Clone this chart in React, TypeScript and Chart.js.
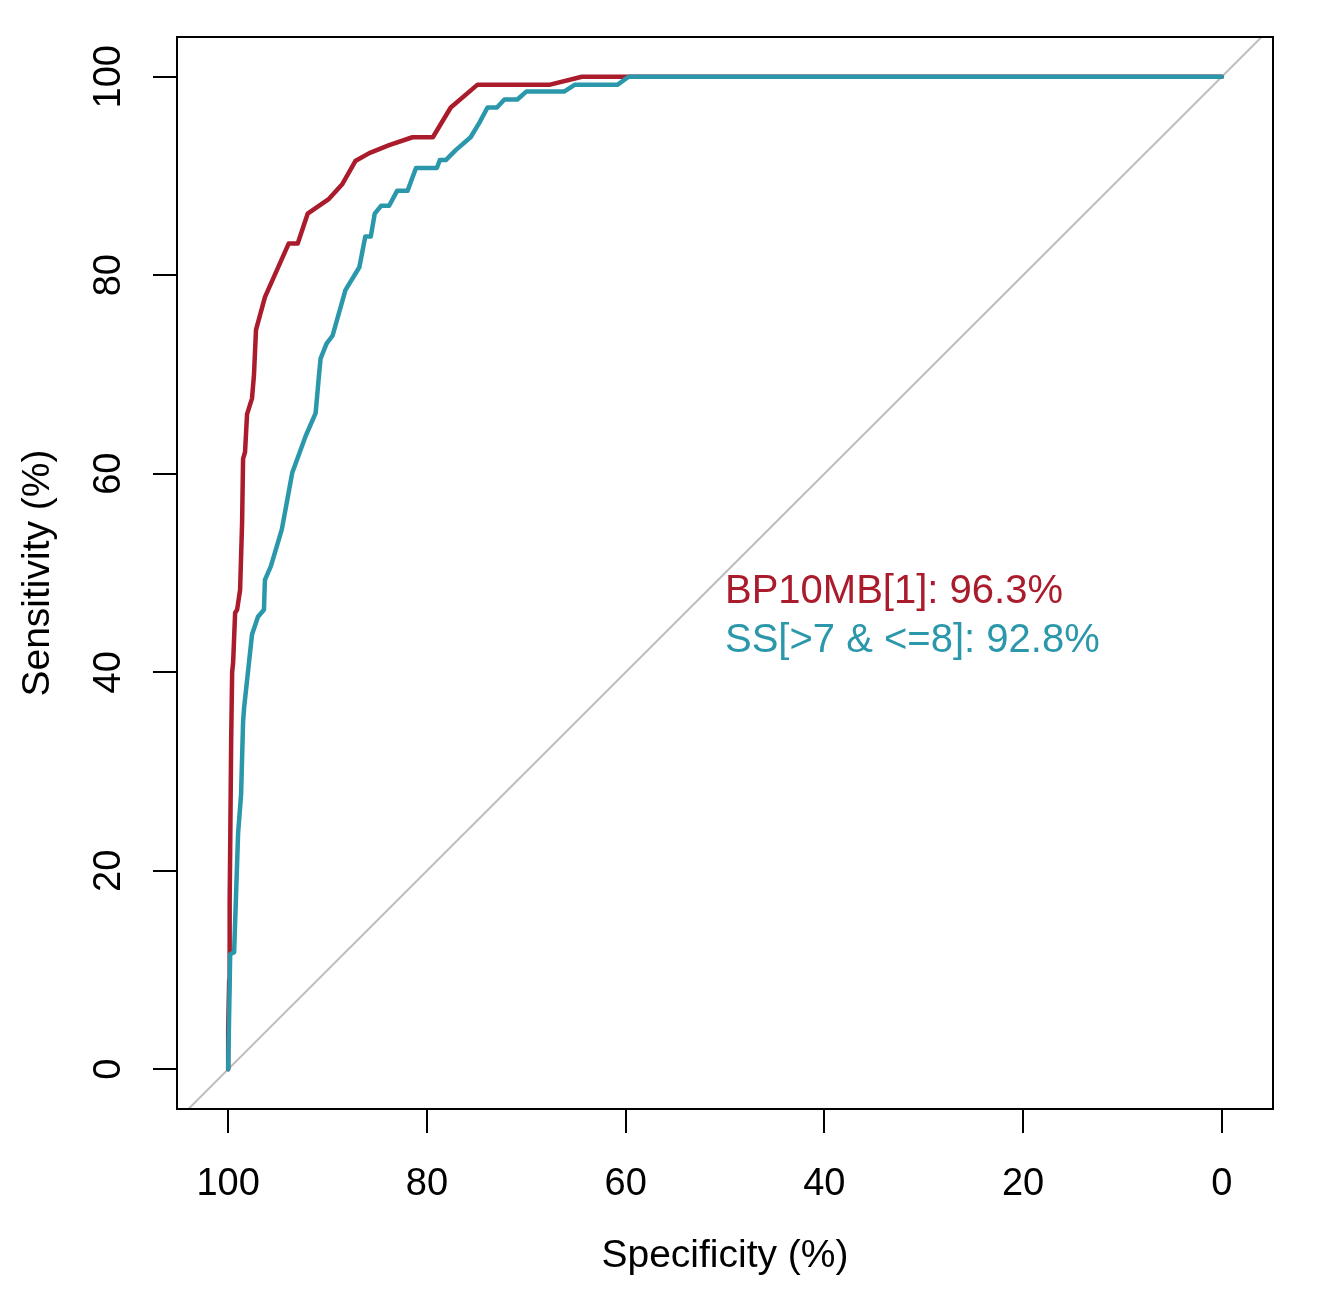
import React, { useEffect, useRef } from 'react';
import { Chart, registerables } from 'chart.js';

Chart.register(...registerables);

// BP10MB[1] ROC curve (specificity %, sensitivity %)
const redSpec = [100, 100, 99.9, 99.85, 99.8, 99.7, 99.6, 99.5, 99.3, 99.1, 98.8, 98.6, 98.5, 98.3, 98.1, 97.6, 97.4, 97.2, 96.3, 93.9, 93.0, 92.0, 89.85, 88.5, 87.2, 85.8, 83.8, 81.45, 79.4, 77.6, 74.9, 67.6, 64.4, 60, 0];
const redSens = [0, 4, 9, 17, 22, 33, 40, 41, 46, 46.3, 48.3, 55, 61.5, 62.2, 66, 67.6, 70, 74.5, 77.8, 83.2, 83.2, 86.2, 87.7, 89.2, 91.5, 92.3, 93.1, 93.9, 93.9, 96.9, 99.2, 99.2, 100, 100, 100];

// SS[>7 & <=8] ROC curve
const tealSpec = [100, 99.8, 99.4, 99.0, 98.7, 98.5, 98.4, 97.6, 97.0, 96.4, 96.3, 95.7, 94.6, 93.55, 92.2, 91.2, 90.9, 90.7, 90.1, 89.5, 88.2, 86.8, 86.2, 85.65, 85.25, 84.6, 83.8, 83.0, 81.95, 81.1, 79.0, 78.7, 78.1, 77.1, 75.6, 74.7, 73.9, 72.95, 72.2, 70.9, 70.0, 66.2, 65.1, 60.8, 59.7, 0];
const tealSens = [0, 11.6, 11.8, 23.8, 27.7, 35, 36.4, 43.8, 45.6, 46.3, 49.3, 50.7, 54.4, 60.1, 63.8, 66.1, 69.5, 71.6, 73.1, 73.9, 78.5, 80.8, 83.9, 83.9, 86.2, 87, 87, 88.5, 88.5, 90.8, 90.8, 91.6, 91.6, 92.6, 93.9, 95.4, 96.9, 96.9, 97.7, 97.7, 98.5, 98.5, 99.2, 99.2, 100, 100];

const tickValues = [0, 20, 40, 60, 80, 100];
const aucLabels = ['BP10MB[1]: 96.3%', 'SS[>7 & <=8]: 92.8%'];

const RED = '#AA1B2B';
const TEAL = '#2A97AB';
const FONT = '"Liberation Sans", Arial, Helvetica, sans-serif';

const toPoints = (xs: number[], ys: number[]) => xs.map((x, i) => ({ x, y: ys[i] }));

const textPlugin = {
	id: 'rocText',
	afterDraw(chart: any) {
		const { ctx, chartArea } = chart;
		const xs = chart.scales.x;
		const ys = chart.scales.y;
		ctx.save();
		// box
		ctx.strokeStyle = '#000';
		ctx.lineWidth = 2;
		ctx.strokeRect(chartArea.left, chartArea.top, chartArea.right - chartArea.left, chartArea.bottom - chartArea.top);

		// rotated y tick labels
		ctx.fillStyle = '#000';
		ctx.font = `38px ${FONT}`;
		ctx.textAlign = 'center';
		ctx.textBaseline = 'alphabetic';
		tickValues.forEach((v) => {
			ctx.save();
			ctx.translate(120, ys.getPixelForValue(v));
			ctx.rotate(-Math.PI / 2);
			ctx.fillText(String(v), 0, 0);
			ctx.restore();
		});

		// axis titles
		ctx.font = `39px ${FONT}`;
		ctx.fillText('Specificity (%)', (chartArea.left + chartArea.right) / 2, 1267);
		ctx.save();
		ctx.translate(49, (chartArea.top + chartArea.bottom) / 2);
		ctx.rotate(-Math.PI / 2);
		ctx.fillText('Sensitivity (%)', 0, 0);
		ctx.restore();

		// AUC labels
		ctx.font = `40px ${FONT}`;
		ctx.textAlign = 'left';
		const lx = xs.getPixelForValue(50);
		const ly = ys.getPixelForValue(50);
		ctx.fillStyle = RED;
		ctx.fillText(aucLabels[0], lx, ly + 30);
		ctx.fillStyle = TEAL;
		ctx.fillText(aucLabels[1], lx, ly + 79);
		ctx.restore();
	}
};

export default function App() {
	const chartRef = useRef<HTMLCanvasElement>(null);
	const chartInstance = useRef<Chart | null>(null);

	useEffect(() => {
		if (chartInstance.current) {
			chartInstance.current.destroy();
		}
		if (!chartRef.current) return;
		const ctx = chartRef.current.getContext('2d');
		if (!ctx) return;

		chartInstance.current = new Chart(ctx, {
			type: 'scatter',
			data: {
				datasets: [
					{
						label: 'SS[>7 & <=8]',
						data: toPoints(tealSpec, tealSens),
						showLine: true,
						borderColor: TEAL,
						borderWidth: 4.5,
						pointRadius: 0,
						borderJoinStyle: 'round',
						borderCapStyle: 'round',
						order: 1
					},
					{
						label: 'BP10MB[1]',
						data: toPoints(redSpec, redSens),
						showLine: true,
						borderColor: RED,
						borderWidth: 4.5,
						pointRadius: 0,
						borderJoinStyle: 'round',
						borderCapStyle: 'round',
						order: 2
					},
					{
						label: 'identity',
						data: [
							{ x: 104, y: -4 },
							{ x: -4, y: 104 }
						],
						showLine: true,
						borderColor: '#BDBDBD',
						borderWidth: 2,
						pointRadius: 0,
						order: 3
					}
				]
			},
			options: {
				animation: false,
				responsive: true,
				maintainAspectRatio: false,
				layout: { padding: { left: 0, top: 37, right: 47, bottom: 0 } },
				plugins: {
					legend: { display: false },
					tooltip: { enabled: false }
				},
				scales: {
					x: {
						type: 'linear',
						reverse: true,
						min: -5.15,
						max: 105.15,
						afterBuildTicks: (scale: any) => {
							scale.ticks = tickValues.map((v) => ({ value: v }));
						},
						afterFit: (scale: any) => {
							scale.height = 183;
						},
						border: { display: false },
						grid: {
							drawOnChartArea: false,
							drawTicks: true,
							tickLength: 24,
							color: '#000',
							lineWidth: 2
						},
						ticks: {
							color: '#000',
							padding: 29,
							maxRotation: 0,
							font: { family: FONT, size: 38 }
						}
					},
					y: {
						type: 'linear',
						min: -4,
						max: 104,
						afterBuildTicks: (scale: any) => {
							scale.ticks = tickValues.map((v) => ({ value: v }));
						},
						afterFit: (scale: any) => {
							scale.width = 177;
						},
						border: { display: false },
						grid: {
							drawOnChartArea: false,
							drawTicks: true,
							tickLength: 24,
							color: '#000',
							lineWidth: 2
						},
						ticks: { display: false }
					}
				}
			},
			plugins: [textPlugin]
		});

		return () => {
			if (chartInstance.current) {
				chartInstance.current.destroy();
				chartInstance.current = null;
			}
		};
	}, []);

	return (
		<div style={{ position: 'absolute', left: 0, top: 0, width: '1320px', height: '1292px', background: '#fff' }}>
			<canvas ref={chartRef}></canvas>
		</div>
	);
}
